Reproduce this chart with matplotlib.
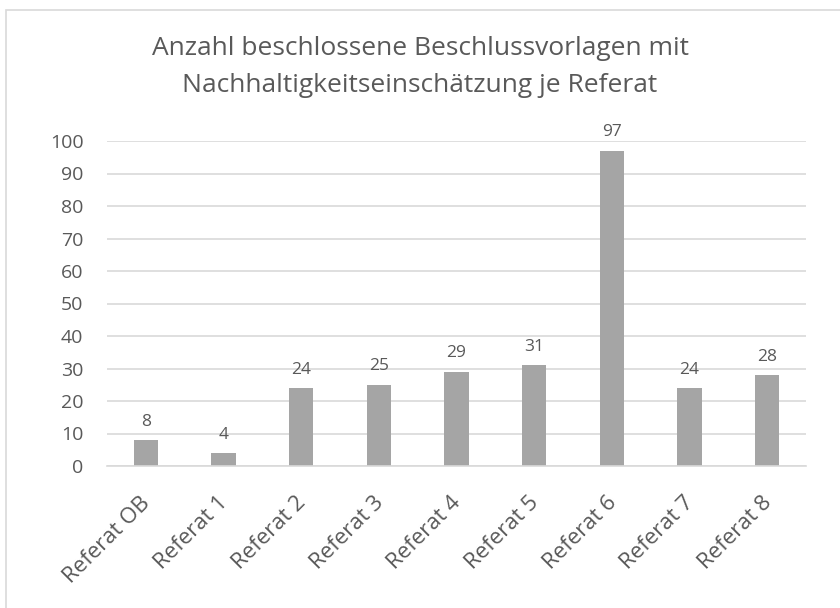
import matplotlib
matplotlib.use("Agg")
import matplotlib.pyplot as plt
from matplotlib.patches import Rectangle
from matplotlib.transforms import ScaledTranslation

categories = ["Referat OB", "Referat 1", "Referat 2", "Referat 3", "Referat 4",
              "Referat 5", "Referat 6", "Referat 7", "Referat 8"]
values = [8, 4, 24, 25, 29, 31, 97, 24, 28]
yticks = [0, 10, 20, 30, 40, 50, 60, 70, 80, 90, 100]
title_lines = ["Anzahl beschlossene Beschlussvorlagen mit",
               "Nachhaltigkeitseinschätzung je Referat"]

plt.rcParams['font.family'] = ['Open Sans', 'DejaVu Sans']
txt = '#595959'

fig = plt.figure(figsize=(8.4, 6.08), dpi=100)
W, H = 840, 608
ax = fig.add_axes([107 / W, 1 - 466 / H, (806 - 107) / W, (466 - 141) / H])

x = list(range(len(categories)))
ax.bar(x, values, width=0.31, color='#a5a5a5', zorder=3)
for xi, v in zip(x, values):
    ax.annotate(str(v), (xi, v), xytext=(0, 7.5), textcoords='offset points',
                ha='center', va='bottom', fontsize=12.5, color=txt)

ax.set_xlim(-0.5, len(categories) - 0.5)
ax.set_ylim(0, 100)
ax.set_yticks(yticks)
ax.set_yticklabels([str(t) for t in yticks], fontsize=14, color=txt)
ax.set_xticks(x)
ax.set_xticklabels(categories, rotation=45, ha='right', rotation_mode='anchor',
                   fontsize=16, color=txt)
ax.tick_params(axis='y', length=0, pad=17)
ax.tick_params(axis='x', length=0, pad=19)
shift = ScaledTranslation(-6 / 100, 0, fig.dpi_scale_trans)
for lbl in ax.get_xticklabels():
    lbl.set_transform(lbl.get_transform() + shift)
ax.yaxis.grid(True, color='#d9d9d9', linewidth=1.2, zorder=0)
for s in ['top', 'right', 'left']:
    ax.spines[s].set_visible(False)
ax.spines['bottom'].set_color('#d9d9d9')
ax.spines['bottom'].set_linewidth(1.2)
ax.spines['bottom'].set_zorder(4)

for yb, line in zip([55, 92], title_lines):
    fig.text(0.5, 1 - yb / H, line, ha='center', va='baseline', fontsize=19,
             color=txt)

fig.patches.append(Rectangle((6 / W, -0.05), 1.2, 1 - 10 / H + 0.05,
                             transform=fig.transFigure, fill=False,
                             edgecolor='#d9d9d9', linewidth=1.2))

fig.savefig("out.png", dpi=100)
